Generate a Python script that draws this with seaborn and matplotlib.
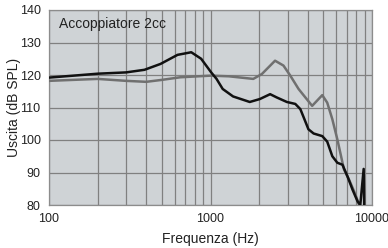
import matplotlib
matplotlib.use('Agg')
import matplotlib.pyplot as plt
import numpy as np
import pandas as pd
import seaborn as sns
from matplotlib.ticker import LogLocator, FixedLocator, NullFormatter

# curve nera (uscita max)
freq_nera = [100, 150, 200, 300, 390, 490, 625, 760, 875, 1010, 1090, 1190, 1380,
             1750, 2020, 2340, 2570, 2970, 3350, 3600, 3780, 4040, 4350, 4920, 5280,
             5680, 6100, 6560, 7050, 7580, 8140, 8460, 8880, 8950]
db_nera = [119.2, 119.9, 120.4, 120.8, 121.6, 123.4, 126.2, 127.0, 125.0, 120.8, 118.8,
           115.7, 113.4, 111.7, 112.6, 114.1, 113.1, 111.7, 111.1, 109.5, 106.9, 103.3,
           102.0, 101.2, 99.5, 95.0, 93.0, 92.4, 88.8, 84.7, 81.1, 80.0, 91.1, 79.5]

# curva grigia
freq_grigia = [100, 200, 300, 400, 500, 650, 1000, 1300, 1840, 2080, 2510, 2830, 3120,
               3510, 4260, 4920, 5280, 5680, 6100, 6710, 7210, 7750, 8340, 8500]
db_grigia = [118.2, 118.8, 118.2, 117.9, 118.5, 119.3, 119.8, 119.6, 118.8, 120.3, 124.4,
             122.9, 119.8, 115.7, 110.5, 113.8, 111.5, 106.4, 100.2, 90.9, 87.8, 84.2,
             80.0, 79.0]

y_ticks = [80, 90, 100, 110, 120, 130, 140]
x_ticks = [100, 1000, 10000]
x_labels = ['100', '1000', '10000']

df = pd.concat([
    pd.DataFrame({'Freq': freq_grigia, 'dB': db_grigia, 'curva': 'grigia'}),
    pd.DataFrame({'Freq': freq_nera, 'dB': db_nera, 'curva': 'nera'}),
])

plt.rcParams['font.family'] = ['Liberation Sans', 'DejaVu Sans']

fig = plt.figure(figsize=(3.88, 2.48), dpi=100)
ax = fig.add_axes([49 / 388, 1 - 205 / 248, 323 / 388, 195 / 248])
ax.set_facecolor('#cfd3d6')

sns.lineplot(data=df, x='Freq', y='dB', hue='curva', sort=False,
             palette={'grigia': '#707070', 'nera': '#111111'},
             linewidth=1.8, legend=False, ax=ax, zorder=3)
for line in ax.get_lines():
    line.set_solid_joinstyle('round')

ax.set_xscale('log')
ax.set_xlim(100, 10000)
ax.set_ylim(80, 140)
ax.xaxis.set_major_locator(FixedLocator(x_ticks))
ax.set_xticklabels(x_labels)
ax.xaxis.set_minor_locator(LogLocator(base=10, subs=np.arange(2, 10)))
ax.xaxis.set_minor_formatter(NullFormatter())
ax.set_yticks(y_ticks)

ax.grid(True, which='both', axis='x', color='#808080', linewidth=0.9)
ax.grid(True, which='major', axis='y', color='#808080', linewidth=0.9)
ax.set_axisbelow(True)

ax.tick_params(which='both', length=0, labelsize=9, labelcolor='#222222')
ax.tick_params(axis='y', pad=6)
ax.tick_params(axis='x', pad=6)

for spine in ax.spines.values():
    spine.set_color('#8c8c8c')
    spine.set_linewidth(0.9)

ax.set_xlabel('Frequenza (Hz)', fontsize=10, color='#222222', labelpad=5)
ax.set_ylabel('Uscita (dB SPL)', fontsize=10, color='#222222', labelpad=-1)

ax.text(0.03, 0.93, 'Accoppiatore 2cc', transform=ax.transAxes, fontsize=10,
        color='#222222', va='center', ha='left')

fig.savefig('out.png', dpi=100)
